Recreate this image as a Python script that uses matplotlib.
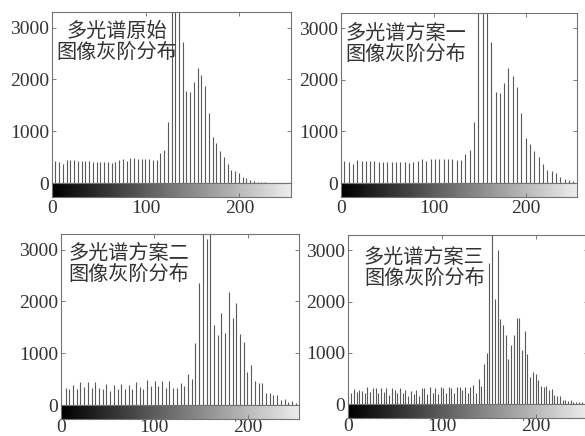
import numpy as np
import matplotlib.pyplot as plt

plt.rcParams['font.family'] = ['Liberation Serif', 'Noto Sans CJK SC']

# gray levels (x) and pixel counts (y)
levels1 = np.linspace(3.5, 255.5, 64)
counts1 = [420, 410, 370, 440, 435, 435, 430, 430, 415, 415, 410, 405, 400, 405,
           410, 395, 405, 435, 465, 430, 475, 475, 470, 460, 460, 470, 440, 450,
           570, 640, 1180, 5000, 4200, 5600,
           2720, 1776, 1750, 1950, 2226, 2078, 1873, 1358, 882, 766, 624, 495,
           360, 245, 238, 187, 109, 97, 64, 39, 19,
           12, 10, 8, 7, 6, 5, 5, 4, 4]

levels2 = np.linspace(3.5, 251.0, 54)
counts2 = [420, 410, 370, 440, 435, 435, 430, 430, 415, 415, 410, 405, 400, 405,
           410, 395, 405, 435, 465, 430, 475, 475, 470, 460, 460, 470, 440, 450,
           570, 640, 1180, 5000, 4200, 5600,
           2730, 1776, 1750, 1950, 2226, 2078, 1873, 1358, 882, 766, 624, 495,
           360, 245, 238, 187, 120, 84, 64, 32]

levels3 = np.linspace(4.9, 251.4, 63)
counts3 = [322, 302, 386, 302, 438, 341, 438, 322, 438, 322, 302, 412, 277, 386,
           302, 399, 315, 380, 302, 438, 341, 309, 483, 367, 470, 367, 457, 335, 470,
           322, 322, 431, 367, 592, 508, 1191, 2349, 4500, 3198, 4800,
           1544, 1351, 1782, 1396, 2188, 1686, 1976, 1364, 1223, 631, 766,
           469, 425, 431, 225, 238, 187, 187, 97, 109, 51, 71, 32]

levels4 = np.linspace(0.5, 248.2, 87)
counts4 = [200, 209, 285, 228, 273, 260, 209, 336, 241, 317, 317, 209, 317, 228,
           317, 178, 305, 273, 209, 305, 209, 273, 165, 260, 197, 273, 159, 305,
           317, 197, 324, 222, 317, 197, 336, 317, 209, 336, 317,
           209, 336, 336, 273, 336, 209, 336, 368, 209, 482, 349, 780, 1003,
           2747, 4500, 2050, 3001,
           1656, 1542, 1340, 880, 1160, 1340, 1680, 1680, 1050, 1430, 970,
           520, 620, 580, 460, 350, 336, 349, 273, 286, 178, 159, 165, 82, 70,
           51, 70, 38, 40, 38, 30]

titles = ['多光谱原始\n图像灰阶分布', '多光谱方案一\n图像灰阶分布',
          '多光谱方案二\n图像灰阶分布', '多光谱方案三\n图像灰阶分布']
title_pos = [(69, 2720), (70, 2700), (73, 2720), (81, 2650)]

W, H = 585, 436
# left, right, top, zero-line (pixels)
boxes = [(52, 291, 12, 183), (341, 577, 13, 183),
         (61, 299, 234, 405), (348, 588, 235, 404)]

fig = plt.figure(figsize=(W / 100, H / 100), dpi=100)
ink = '#333333'
cb_h = 14

data = [(levels1, counts1), (levels2, counts2), (levels3, counts3), (levels4, counts4)]
for i in range(4):
    l, r, t, b = boxes[i]
    ax = fig.add_axes([l / W, 1 - b / H, (r - l) / W, (b - t) / H])
    x, y = data[i]
    ax.vlines(x, 0, y, color='0.35', linewidth=0.8)
    ax.set_xlim(0, 255)
    ax.set_ylim(0, 3300)
    ax.set_yticks([0, 1000, 2000, 3000])
    ax.set_xticks([0, 100, 200])
    ax.tick_params(direction='in', length=3, width=0.6, color='0.4',
                   labelsize=14, labelcolor=ink, pad=2,
                   right=True, top=True, bottom=False, labelbottom=False)
    for s in ax.spines.values():
        s.set_color('0.45')
        s.set_linewidth(0.8)
    tx, ty = title_pos[i]
    ax.text(tx, ty, titles[i], ha='center', va='center', multialignment='center',
            fontsize=14.5, color=ink, linespacing=1.0,
            family=['Noto Sans CJK SC', 'DejaVu Sans'])

    cax = fig.add_axes([l / W, 1 - (b + cb_h) / H, (r - l) / W, cb_h / H])
    cax.imshow(np.arange(256).reshape(1, -1), cmap='gray', vmin=0, vmax=275,
               aspect='auto', extent=(0, 255, 0, 1))
    cax.set_xlim(0, 255)
    cax.set_yticks([])
    cax.set_xticks([0, 100, 200])
    cax.tick_params(direction='in', length=3, width=0.6, color='0.4',
                    labelsize=14, labelcolor=ink, pad=2 if i < 2 else 0)
    for s in cax.spines.values():
        s.set_color('0.45')
        s.set_linewidth(0.8)

fig.savefig('out.png', dpi=100)
